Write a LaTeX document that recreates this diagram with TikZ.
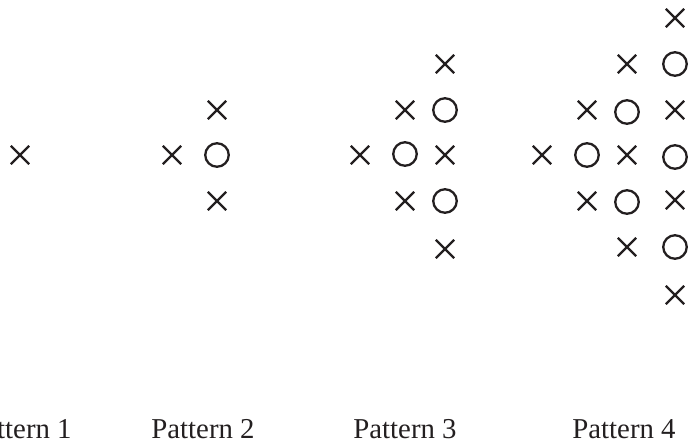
\documentclass[tikz,border=0pt]{standalone}
\usepackage{fontspec}
\setmainfont{Liberation Serif}
\usetikzlibrary{shapes.misc}
\definecolor{ink}{HTML}{231F20}
\tikzset{
  xm/.style={cross out, draw=ink, line width=2.3pt, minimum size=16pt, inner sep=0pt},
  om/.style={circle, draw=ink, line width=2.3pt, minimum size=23.5pt, inner sep=0pt},
  lab/.style={anchor=base, font=\fontsize{28.8}{32}\selectfont, text=ink, inner sep=0pt}
}
\begin{document}
\begin{tikzpicture}[x=1pt,y=-1pt]
\useasboundingbox (0,0) rectangle (688,445);
% Pattern 1
\node[xm] (a1) at (20,155) {};
% Pattern 2
\node[xm] (b1) at (172,155) {};
\node[om] (b2) at (217,155) {};
\node[xm] (b3) at (217,110) {};
\node[xm] (b4) at (217,201) {};
% Pattern 3
\node[xm] (c1) at (360,155) {};
\node[om] (c2) at (405,154) {};
\node[xm] (c3) at (445,155) {};
\node[xm] (c4) at (405,110) {};
\node[om] (c5) at (445,110) {};
\node[xm] (c6) at (445,64) {};
\node[xm] (c7) at (405,201) {};
\node[om] (c8) at (445,201) {};
\node[xm] (c9) at (445,249) {};
% Pattern 4
\node[xm] (d1) at (542,155) {};
\node[om] (d2) at (587,155) {};
\node[xm] (d3) at (627,155) {};
\node[om] (d4) at (675,157) {};
\node[xm] (d5) at (587,110) {};
\node[om] (d6) at (627,112) {};
\node[xm] (d7) at (675,110) {};
\node[xm] (d8) at (627,64) {};
\node[om] (d9) at (675,64) {};
\node[xm] (d10) at (675,18) {};
\node[xm] (d11) at (587,201) {};
\node[om] (d12) at (627,202) {};
\node[xm] (d13) at (675,200) {};
\node[xm] (d14) at (627,247) {};
\node[om] (d15) at (675,247) {};
\node[xm] (d16) at (675,295) {};
% Labels
\node[lab] (l1) at (20,438) {Pattern 1};
\node[lab] (l2) at (203,438) {Pattern 2};
\node[lab] (l3) at (405,438) {Pattern 3};
\node[lab] (l4) at (624,438) {Pattern 4};
\end{tikzpicture}
\end{document}
